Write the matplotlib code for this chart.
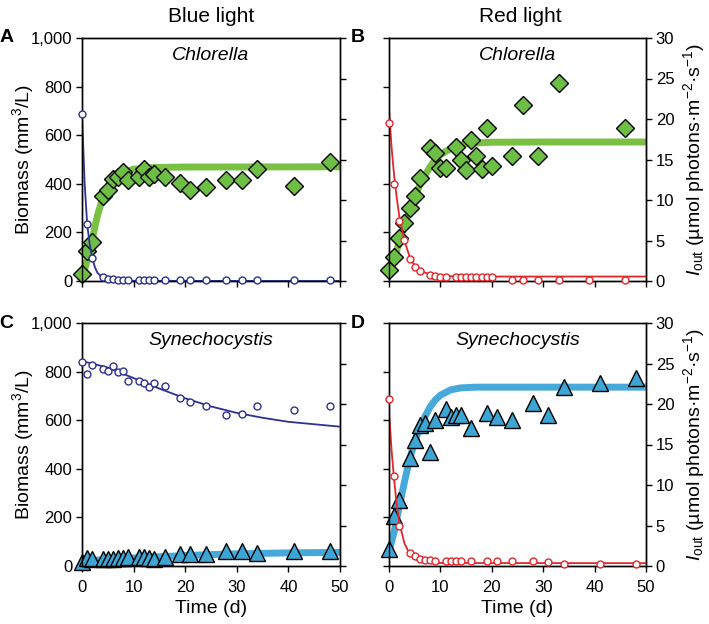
import matplotlib
matplotlib.use('Agg')
import matplotlib.pyplot as plt

plt.rcParams['font.family'] = ['Liberation Sans', 'DejaVu Sans']
plt.rcParams['mathtext.fontset'] = 'custom'
plt.rcParams['mathtext.rm'] = 'Liberation Sans'
plt.rcParams['mathtext.it'] = 'Liberation Sans:italic'

# sampling days (panels A, C, D)
days = [0, 1, 2, 4, 5, 6, 7, 8, 9, 11, 12, 13, 14, 16, 19, 21, 24, 28, 31, 34, 41, 48]

# A: Chlorella, blue light
bio_a = [30, 125, 160, 350, 375, 420, 430, 450, 415, 430, 460, 430, 440, 430,
         405, 375, 385, 415, 415, 460, 390, 490]
iout_a = [20.6, 7.0, 2.9, 0.45, 0.3, 0.2, 0.15, 0.15, 0.15, 0.1, 0.1, 0.1, 0.1,
          0.1, 0.1, 0.1, 0.1, 0.1, 0.1, 0.1, 0.1, 0.1]
fitbio_a_t = [0, 1, 2, 3, 4, 5, 6, 8, 10, 14, 20, 50]
fitbio_a = [10, 85, 175, 270, 340, 385, 418, 448, 460, 467, 469, 470]
fitiout_a_t = [0, 0.5, 1, 1.5, 2, 2.5, 3, 4, 5, 6, 8, 50]
fitiout_a = [20.7, 12.2, 7.0, 4.5, 2.8, 1.7, 1.0, 0.4, 0.15, 0.05, 0.02, 0.0]

# B: Chlorella, red light
days_b = [0, 1, 2, 3, 4, 5, 6, 8, 9, 10, 11, 13, 14, 15, 16, 17, 18, 19, 20, 24, 26, 29, 33, 46]
bio_b = [45, 100, 176, 238, 300, 348, 424, 548, 528, 466, 466, 552, 500, 455,
         580, 514, 461, 628, 475, 514, 724, 514, 815, 628]
days_b_iout = [0, 1, 2, 3, 4, 5, 6, 8, 9, 10, 11, 13, 14, 15, 16, 17, 18, 19, 20,
               24, 26, 29, 33, 39, 46]
iout_b = [19.5, 12.0, 7.4, 5.1, 2.7, 1.7, 1.2, 0.74, 0.62, 0.55, 0.55, 0.5, 0.5,
          0.45, 0.45, 0.45, 0.45, 0.45, 0.45, 0.15, 0.15, 0.15, 0.1, 0.15, 0.15]
fitbio_b_t = [0, 1, 2, 3, 4, 5, 6, 7, 8, 9, 10, 12, 14, 16, 20, 30, 50]
fitbio_b = [30, 90, 160, 225, 290, 345, 395, 435, 470, 500, 520, 545, 560, 567, 571, 572, 572]
fitiout_b_t = [0, 0.5, 1, 1.5, 2, 3, 4, 5, 6, 8, 10, 15, 50]
fitiout_b = [21.2, 16.5, 13.0, 10.3, 8.0, 5.0, 3.0, 1.9, 1.3, 0.8, 0.62, 0.55, 0.55]

# C: Synechocystis, blue light
bio_c = [18, 32, 27, 28, 28, 30, 32, 32, 35, 35, 35, 33, 30, 38, 50, 50, 50, 60,
         63, 52, 60, 60]
iout_c = [25.2, 23.7, 24.8, 24.3, 24.1, 24.7, 23.9, 24.1, 22.9, 22.8, 22.6, 22.1,
          22.6, 22.2, 20.8, 20.2, 19.8, 18.6, 18.8, 19.8, 19.3, 19.8]
fit_c_t = [0, 5, 10, 15, 20, 25, 30, 35, 40, 45, 50]
fitbio_c = [20, 27, 33, 38, 43, 47, 50, 52, 54, 55, 56]
fitiout_c = [25.3, 24.5, 23.2, 21.9, 20.7, 19.7, 18.9, 18.3, 17.8, 17.5, 17.2]

# D: Synechocystis, red light
bio_d = [72, 205, 271, 443, 519, 580, 587, 470, 601, 645, 612, 622, 622, 567,
         629, 615, 601, 670, 622, 736, 755, 773]
iout_d = [20.6, 11.1, 5.0, 1.65, 1.24, 0.83, 0.78, 0.78, 0.58, 0.58, 0.58, 0.58,
          0.58, 0.58, 0.58, 0.58, 0.6, 0.58, 0.5, 0.29, 0.29, 0.29]
fitbio_d_t = [0, 1, 2, 3, 4, 5, 6, 7, 8, 9, 10, 12, 14, 17, 50]
fitbio_d = [60, 140, 245, 345, 440, 510, 570, 615, 655, 683, 703, 725, 733, 736, 736]
fitiout_d_t = [0, 0.5, 1, 1.5, 2, 3, 4, 5, 6, 8, 10, 50]
fitiout_d = [19.1, 14.3, 10.6, 7.6, 5.4, 2.8, 1.5, 0.9, 0.6, 0.42, 0.37, 0.35]

NAVY = '#2E3192'
RED = '#E3262B'
GREEN = '#7AC143'
GREEN_FILL = '#6DBE45'
CYAN = '#47A9DA'
CYAN_FILL = '#3DA5D3'

fig = plt.figure(figsize=(7.09, 6.24), dpi=100)

W, H = 709, 624


def make_axes(x0, x1, y0, y1):
    return fig.add_axes([x0 / W, 1 - y1 / H, (x1 - x0) / W, (y1 - y0) / H])


def panel(ax, bio_t, bio, fb_t, fb, io_t, io, fi_t, fi, bio_style, io_color,
          species, letter, left_labels, bottom_labels):
    mk, fill, lcol, ms = bio_style
    ax.plot(fb_t, fb, color=lcol, lw=5, solid_capstyle='butt', zorder=2)
    ax.plot(bio_t, bio, linestyle='none', marker=mk, ms=ms, mfc=fill,
            mec='black', mew=1.0, clip_on=False, zorder=3)
    ax.set_xlim(0, 50)
    ax.set_ylim(0, 1000)
    ax.set_xticks(range(0, 51, 10))
    ax.set_yticks(range(0, 1001, 200))

    ax2 = ax.twinx()
    ax2.plot(fi_t, fi, color=io_color, lw=1.3, zorder=2)
    ax2.plot(io_t, io, linestyle='none', marker='o', ms=5, mfc='white',
             mec=io_color, mew=1.0, clip_on=False, zorder=3)
    ax2.set_ylim(0, 30)
    ax2.set_yticks(range(0, 31, 5))

    for a in (ax, ax2):
        a.tick_params(direction='out', length=4, width=1, labelsize=12, pad=3)
        for s in a.spines.values():
            s.set_linewidth(1.0)
    ax.tick_params(axis='x', top=False, pad=6)

    if left_labels:
        ax.set_yticklabels(['0', '200', '400', '600', '800', '1,000'])
        ax.set_ylabel('Biomass (mm$^3$/L)', fontsize=14, labelpad=-4)
        ax2.set_yticklabels([])
    else:
        ax.set_yticklabels([])
        ax2.set_ylabel(r'$I_{\rm out}$ (µmol photons·m$^{-2}$·s$^{-1}$)',
                       fontsize=14, labelpad=5)
    if bottom_labels:
        ax.set_xlabel('Time (d)', fontsize=14, labelpad=4)
    else:
        ax.set_xticklabels([])

    ax.text(0.5, 0.93, species, transform=ax.transAxes, ha='center',
            va='center', fontsize=14, style='italic')
    ax.text(-0.32 if left_labels else -0.15, 1.0, letter, transform=ax.transAxes,
            ha='left', va='center', fontsize=14, fontweight='bold')
    return ax2


ax_a = make_axes(82, 340, 38, 281)
ax_b = make_axes(389, 646, 38, 281)
ax_c = make_axes(82, 340, 323, 566)
ax_d = make_axes(389, 646, 323, 566)

panel(ax_a, days, bio_a, fitbio_a_t, fitbio_a, days, iout_a, fitiout_a_t, fitiout_a,
      ('D', GREEN_FILL, GREEN, 9), NAVY, 'Chlorella', 'A', True, False)
panel(ax_b, days_b, bio_b, fitbio_b_t, fitbio_b, days_b_iout, iout_b, fitiout_b_t, fitiout_b,
      ('D', GREEN_FILL, GREEN, 9), RED, 'Chlorella', 'B', False, False)
panel(ax_c, days, bio_c, fit_c_t, fitbio_c, days, iout_c, fit_c_t, fitiout_c,
      ('^', CYAN_FILL, CYAN, 11), NAVY, 'Synechocystis', 'C', True, True)
panel(ax_d, days, bio_d, fitbio_d_t, fitbio_d, days, iout_d, fitiout_d_t, fitiout_d,
      ('^', CYAN_FILL, CYAN, 11), RED, 'Synechocystis', 'D', False, True)

fig.text(211 / W, 1 - 16 / H, 'Blue light', ha='center', va='center', fontsize=15)
fig.text(520 / W, 1 - 16 / H, 'Red light', ha='center', va='center', fontsize=15)

fig.savefig('out.png', dpi=100)
